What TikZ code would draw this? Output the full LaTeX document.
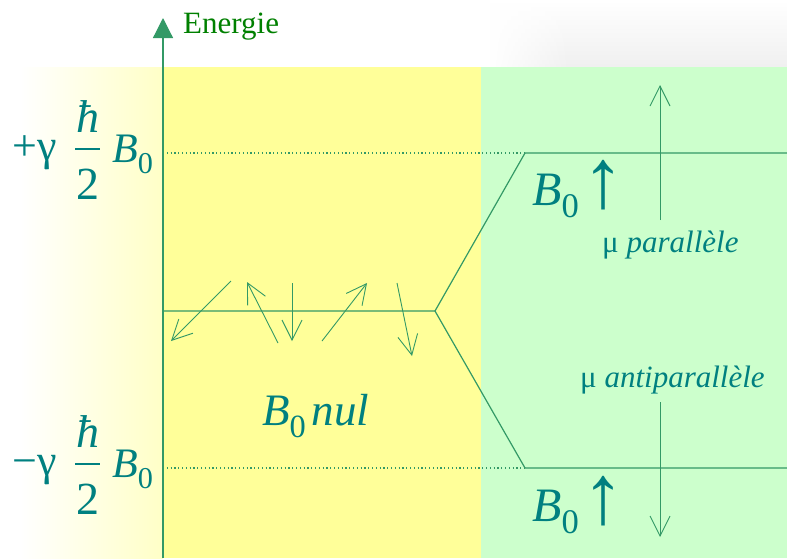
\documentclass[tikz,border=0pt]{standalone}
\usepackage{fontspec}
\usepackage{graphicx}
\setmainfont{Liberation Serif}
\usetikzlibrary{arrows.meta, fadings}
\definecolor{cYellow}{RGB}{255,255,153}
\definecolor{cGreen}{RGB}{204,255,204}
\definecolor{cLine}{RGB}{51,153,102}
\definecolor{cText}{RGB}{0,128,128}
\definecolor{cTitle}{RGB}{0,128,0}
\newcommand{\Bz}{\textit{B}\raisebox{-0.27em}{\scalebox{0.72}{0}}}
\newcommand{\upB}{\raisebox{-0.05em}{\fontsize{84}{84}\selectfont ↑}}
\tikzset{
	level/.style={cLine, line width=1.2pt},
	levelgap/.style={cLine, line width=1.2pt, dash pattern=on 1.2pt off 2.6pt},
	spin/.style={cLine, line width=0.9pt, -{Straight Barb[length=20pt, width=20pt]}},
	axis/.style={cLine, line width=1.2pt, -{Triangle[length=20pt, width=20pt]}},
	lbl/.style={cText, inner sep=0pt}
}

\begin{document}
\begin{tikzpicture}[font=\fontsize{31}{31}\selectfont, x=1pt, y=-1pt]
	\useasboundingbox (0,0) rectangle (787,558);
	% backgrounds
	\fill[white] (0,0) rectangle (787,558);
	\shade[top color=white, bottom color=black!6] (570,0) rectangle (787,67);
	\shade[top color=white, bottom color=black!6, path fading=west] (490,0) rectangle (571,67);
	\shade[left color=white, right color=cYellow!55] (20,67) rectangle (163,558);
	\fill[cYellow] (163,67) rectangle (481,558);
	\fill[cGreen] (481,67) rectangle (787,558);

	% energy axis
	\coordinate (axisBot) at (163,558);
	\coordinate (axisTop) at (163,18);
	\draw[axis] (axisBot) -- (axisTop);
	\node[cTitle, inner sep=0pt, anchor=base west] (energie) at (183,33) {Energie};

	% levels
	\coordinate (midL) at (163,311);
	\coordinate (split) at (435,311);
	\coordinate (hiL) at (163,153);
	\coordinate (hiK) at (525,153);
	\coordinate (hiR) at (787,153);
	\coordinate (loL) at (163,468);
	\coordinate (loK) at (525,468);
	\coordinate (loR) at (787,468);
	\draw[levelgap] (hiL) -- (hiK);
	\draw[levelgap] (loL) -- (loK);
	\draw[level] (midL) -- (split) -- (hiK) -- (hiR);
	\draw[level] (split) -- (loK) -- (loR);

	% random moments, B0 = 0
	\foreach \i/\sx/\sy/\tx/\ty in {1/231/281/171/341, 2/278/343/247/282, 3/292/283/292/341, 4/322/341/367/283, 5/397/283/412/356} {
		\coordinate (s\i) at (\sx,\sy);
		\coordinate (t\i) at (\tx,\ty);
		\draw[spin] (s\i) -- (t\i);
	}
	\node[lbl, anchor=base west, font=\fontsize{45}{45}\selectfont] (bNul) at (262,425) {\Bz\hspace{6pt}\textit{nul}};

	% energy labels
	\foreach \d/\s/\n in {0/+/Hi, 315/−/Lo} {
		\node[lbl, anchor=base west, font=\fontsize{44}{44}\selectfont] (gam\n) at (12,160+\d) {\s γ};
		\node[lbl, anchor=base, font=\fontsize{46}{46}\selectfont\itshape] (hbar\n) at (88,132+\d) {ħ};
		\node[lbl, anchor=base, font=\fontsize{46}{46}\selectfont] (two\n) at (88,199+\d) {2};
		\draw[cText, line width=1.3pt] (75,149+\d) -- (100,149+\d);
		\node[lbl, anchor=base west, font=\fontsize{42}{42}\selectfont] (b\n) at (112,162+\d) {\Bz};
	}

	% B0 applied
	\node[lbl, anchor=base west, font=\fontsize{48}{48}\selectfont] (bParal) at (532,205) {\Bz\hspace{4pt}\upB};
	\node[lbl, anchor=base west, font=\fontsize{48}{48}\selectfont] (bAnti) at (532,521) {\Bz\hspace{4pt}\upB};
	\coordinate (upFrom) at (660,220);
	\coordinate (upTo) at (660,85);
	\coordinate (downFrom) at (660,402);
	\coordinate (downTo) at (660,537);
	\draw[spin] (upFrom) -- (upTo);
	\draw[spin] (downFrom) -- (downTo);
	\node[lbl, anchor=base west] (muParal) at (602,252) {μ \textit{parallèle}};
	\node[lbl, anchor=base west] (muAnti) at (580,387) {μ \textit{antiparallèle}};
\end{tikzpicture}
\end{document}
